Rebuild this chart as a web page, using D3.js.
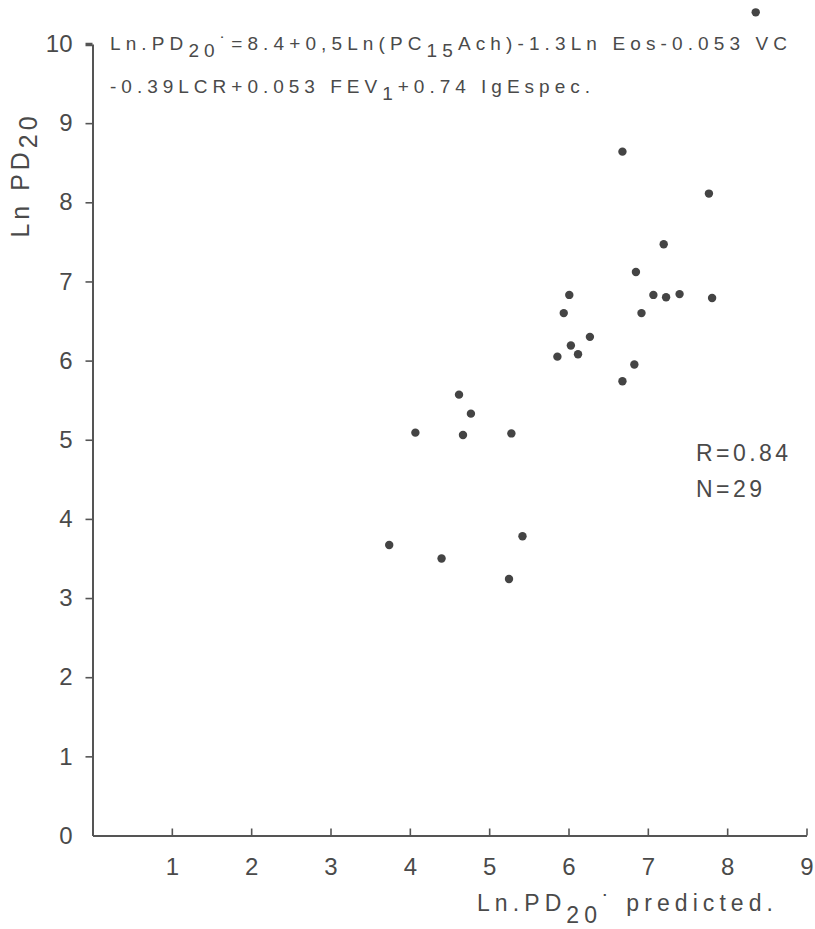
<!DOCTYPE html>
<html><head><meta charset="utf-8">
<script src="https://cdn.jsdelivr.net/npm/d3@7"></script>
<style>
body{margin:0;background:#fff}
svg text{font-family:"Liberation Sans",Arial,Helvetica,sans-serif;fill:#4a4a4a}
</style>
</head><body>
<svg id="chart" width="815" height="929"></svg>
<script>
// ---- data ----
const predicted = [6.68,7.77,7.20,6.85,6.01,7.07,7.23,7.40,7.81,5.94,6.92,6.27,6.03,5.86,6.12,6.83,6.68,
                   4.62,4.77,4.07,4.67,5.28,5.42,3.74,4.40,5.25,8.36];
const observed  = [8.64,8.11,7.47,7.12,6.83,6.83,6.80,6.84,6.79,6.60,6.60,6.30,6.19,6.05,6.08,5.95,5.74,
                   5.57,5.33,5.09,5.06,5.08,3.78,3.67,3.50,3.24,10.40];
const xTickValues = [1,2,3,4,5,6,7,8,9];
const yTickValues = [0,1,2,3,4,5,6,7,8,9,10];
const equationLine1 = [["Ln.PD",0],["20",1],["˙=8.4+0,5Ln(PC",0],["15",1],["Ach)-1.3Ln Eos-0.053 VC",0]];
const equationLine2 = [["-0.39LCR+0.053 FEV",0],["1",1],["+0.74 IgEspec.",0]];
const xTitle = [["Ln.PD",0],["20",1],["˙ predicted.",0]];
const yTitle = [["Ln  PD",0],["20",1]];
const statsLines = ["R=0.84","N=29"];

// ---- drawing ----
const svg = d3.select("#chart");
const x = d3.scaleLinear().domain([0,9]).range([92.5,806.5]);
const y = d3.scaleLinear().domain([0,10]).range([835.5,44]);
const ink = "#4a4a4a";

function richText(parent, segs, shift){
  const t = parent.append("text");
  segs.forEach(([s, sub], i) => {
    const prevSub = i > 0 && segs[i-1][1];
    t.append("tspan").attr("dy", sub ? shift : (prevSub ? -shift : 0)).text(s);
  });
  return t;
}
function fit(t, width){
  const n = t.text().length;
  const w = t.node().getComputedTextLength();
  t.style("letter-spacing", ((width - w) / Math.max(1, n - 1)) + "px");
}

// axes
const xAxis = d3.axisBottom(x).tickValues(xTickValues).tickSize(-7).tickSizeOuter(0).tickPadding(22);
const yAxis = d3.axisLeft(y).tickValues(yTickValues).tickSize(7).tickSizeOuter(0).tickPadding(13);

const gx = svg.append("g").attr("transform", `translate(0,${y(0)})`).call(xAxis);
const gy = svg.append("g").attr("transform", `translate(${x(0)},0)`).call(yAxis);
[gx, gy].forEach(g => {
  g.attr("font-family", null).attr("font-size", null);
  g.select(".domain").attr("stroke", "#555").attr("stroke-width", 2);
  g.selectAll(".tick line").attr("stroke", "#555").attr("stroke-width", 1.6);
  g.selectAll(".tick text").style("font-size", "24px").attr("fill", ink);
});
gy.selectAll(".tick").filter(d => d === 0).select("line").remove();
gy.selectAll(".tick").filter(d => d === 10).select("line").attr("stroke-width", 3.5);

// points
svg.append("g").selectAll("circle")
  .data(predicted.map((p, i) => [p, observed[i]]))
  .join("circle")
  .attr("cx", d => x(d[0]))
  .attr("cy", d => y(d[1]))
  .attr("r", 4.2)
  .attr("fill", "#444");

// equation
const eq1 = richText(svg, equationLine1, 7).attr("x", 110).attr("y", 50).style("font-size", "19px");
fit(eq1, 677);
const eq2 = richText(svg, equationLine2, 7).attr("x", 110).attr("y", 93).style("font-size", "19px");
fit(eq2, 480);

// x title
const xt = richText(svg, xTitle, 12).attr("x", 477).attr("y", 911).style("font-size", "23px");
fit(xt, 296);

// y title
const yt = richText(svg.append("g").attr("transform", "translate(29,175) rotate(-90)"), yTitle, 8)
  .attr("text-anchor", "middle").style("font-size", "25px");
fit(yt, 125);

// stats
const s1 = svg.append("text").attr("x", 696).attr("y", 461).style("font-size", "23px").text(statsLines[0]);
fit(s1, 92);
const s2 = svg.append("text").attr("x", 696).attr("y", 497).style("font-size", "23px").text(statsLines[1]);
fit(s2, 66);
</script>
</body></html>
